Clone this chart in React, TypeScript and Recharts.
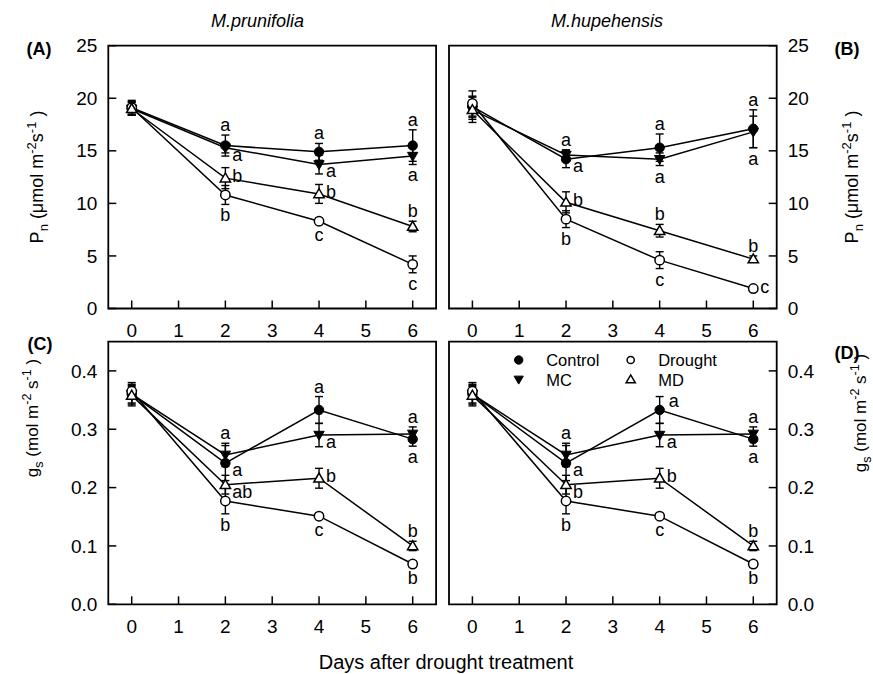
import React from 'react';
import { LineChart, Line, XAxis, YAxis, ErrorBar, LabelList, Legend, ReferenceArea } from 'recharts';

const FONT = '"Liberation Sans", Arial, Helvetica, sans-serif';

const days = [0, 2, 4, 6];
const dayTicks = [0, 1, 2, 3, 4, 5, 6];
const pnTicks = [0, 5, 10, 15, 20, 25];
const gsTicks = [0, 0.1, 0.2, 0.3, 0.4];

type SeriesKey = 'control' | 'mc' | 'drought' | 'md';
type Placement = '' | 'top' | 'bottom' | 'right' | 'rightLow' | 'rightUp';
type Shape = 'filledCircle' | 'filledDown' | 'openCircle' | 'openUp';

// (A) Pn, M. prunifolia
const pnPrunMean = { control: [19.1, 15.5, 14.9, 15.5], mc: [19.0, 15.3, 13.7, 14.5], drought: [19.1, 10.8, 8.3, 4.2], md: [19.0, 12.4, 10.9, 7.8] };
const pnPrunSe = { control: [0.7, 1.0, 0.8, 1.5], mc: [0.6, 0.5, 0.9, 0.8], drought: [0.6, 0.9, 0.3, 0.8], md: [0.6, 1.0, 0.9, 0.5] };
const pnPrunSig = { control: ['', 'a', 'a', 'a'], mc: ['', 'a', 'a', 'a'], drought: ['', 'b', 'c', 'c'], md: ['', 'b', 'b', 'b'] };

// (B) Pn, M. hupehensis
const pnHupeMean = { control: [19.2, 14.2, 15.3, 17.1], mc: [18.9, 14.6, 14.2, 16.8], drought: [19.5, 8.5, 4.6, 1.9], md: [18.9, 10.1, 7.4, 4.7] };
const pnHupeSe = { control: [1.0, 0.8, 1.3, 1.8], mc: [0.9, 0.5, 0.6, 1.5], drought: [1.2, 0.8, 0.8, 0.2], md: [1.2, 1.0, 0.6, 0.3] };
const pnHupeSig = { control: ['', 'a', 'a', 'a'], mc: ['', 'a', 'a', 'a'], drought: ['', 'b', 'c', 'c'], md: ['', 'b', 'b', 'b'] };

// (C) gs, M. prunifolia
const gsPrunMean = { control: [0.36, 0.242, 0.333, 0.283], mc: [0.36, 0.256, 0.29, 0.292], drought: [0.365, 0.177, 0.151, 0.069], md: [0.358, 0.205, 0.216, 0.1] };
const gsPrunSe = { control: [0.02, 0.03, 0.023, 0.012], mc: [0.015, 0.02, 0.02, 0.012], drought: [0.012, 0.022, 0.004, 0.005], md: [0.015, 0.016, 0.017, 0.008] };
const gsPrunSig = { control: ['', 'a', 'a', 'a'], mc: ['', 'a', 'a', 'a'], drought: ['', 'b', 'c', 'b'], md: ['', 'ab', 'b', 'b'] };

// (D) gs, M. hupehensis
const gsHupeMean = { control: [0.36, 0.242, 0.333, 0.283], mc: [0.36, 0.256, 0.29, 0.292], drought: [0.365, 0.177, 0.151, 0.069], md: [0.358, 0.205, 0.216, 0.1] };
const gsHupeSe = { control: [0.02, 0.03, 0.023, 0.012], mc: [0.015, 0.02, 0.02, 0.012], drought: [0.012, 0.022, 0.004, 0.005], md: [0.015, 0.016, 0.017, 0.008] };
const gsHupeSig = { control: ['', 'a', 'a', 'a'], mc: ['', 'a', 'a', 'a'], drought: ['', 'b', 'c', 'b'], md: ['', 'b', 'b', 'b'] };

const seriesDefs: { key: SeriesKey; name: string; shape: Shape }[] = [
  { key: 'control', name: 'Control', shape: 'filledCircle' },
  { key: 'mc', name: 'MC', shape: 'filledDown' },
  { key: 'drought', name: 'Drought', shape: 'openCircle' },
  { key: 'md', name: 'MD', shape: 'openUp' },
];

// where each significance letter sits relative to its point
const placeA: Record<SeriesKey, Placement[]> = {
  control: ['', 'top', 'top', 'top'],
  mc: ['', 'rightLow', 'rightLow', 'bottom'],
  drought: ['', 'bottom', 'bottom', 'bottom'],
  md: ['', 'right', 'right', 'top'],
};
const placeB: Record<SeriesKey, Placement[]> = {
  control: ['', 'rightLow', 'top', 'top'],
  mc: ['', 'top', 'bottom', 'bottom'],
  drought: ['', 'bottom', 'bottom', 'right'],
  md: ['', 'right', 'top', 'top'],
};
const placeC: Record<SeriesKey, Placement[]> = {
  control: ['', 'rightLow', 'top', 'bottom'],
  mc: ['', 'top', 'rightLow', 'top'],
  drought: ['', 'bottom', 'bottom', 'bottom'],
  md: ['', 'rightLow', 'right', 'top'],
};
const placeD: Record<SeriesKey, Placement[]> = {
  control: ['', 'rightLow', 'rightUp', 'bottom'],
  mc: ['', 'top', 'rightLow', 'top'],
  drought: ['', 'bottom', 'bottom', 'bottom'],
  md: ['', 'rightLow', 'right', 'top'],
};

type Row = Record<string, number | string>;

const buildRows = (
  mean: Record<SeriesKey, number[]>,
  se: Record<SeriesKey, number[]>,
  sig: Record<SeriesKey, string[]>
): Row[] =>
  days.map((day, i) => {
    const row: Row = { day };
    seriesDefs.forEach(({ key }) => {
      row[key] = mean[key][i];
      row[`${key}Se`] = se[key][i];
      row[`${key}Sig`] = sig[key][i];
    });
    return row;
  });

const X_AXIS_H = 25;
const Y_AXIS_W = 60;

const Marker = ({ shape, x, y, r }: { shape: Shape; x: number; y: number; r: number }) => {
  if (shape === 'filledCircle') return <circle cx={x} cy={y} r={r} fill="#000" stroke="#000" strokeWidth={1} />;
  if (shape === 'openCircle') return <circle cx={x} cy={y} r={r} fill="#fff" stroke="#000" strokeWidth={1.5} />;
  const hw = r * 1.1;
  if (shape === 'filledDown') {
    const pts = `${x - hw},${y - r * 0.8} ${x + hw},${y - r * 0.8} ${x},${y + r * 1.1}`;
    return <polygon points={pts} fill="#000" stroke="#000" strokeWidth={1} />;
  }
  const pts = `${x - hw},${y + r * 0.8} ${x + hw},${y + r * 0.8} ${x},${y - r * 1.1}`;
  return <polygon points={pts} fill="#fff" stroke="#000" strokeWidth={1.5} />;
};

const makeDot = (shape: Shape) => (props: any) => {
  const { cx, cy, index } = props;
  if (cx == null || cy == null) return <g key={`dot-${shape}-${index}`} />;
  return (
    <g key={`dot-${shape}-${index}`}>
      <Marker shape={shape} x={cx} y={cy} r={4.7} />
    </g>
  );
};

const makeLetter = (place: Placement[], rows: Row[], seKey: string, pxPerUnit: number) => (props: any) => {
  const x = props.viewBox?.x ?? props.x;
  const y = props.viewBox?.y ?? props.y;
  const i = props.index;
  const v = props.value;
  const p = place[i];
  if (!v || !p || x == null || y == null) return null;
  const errPx = Number(rows[i][seKey]) * pxPerUnit;
  let tx = x;
  let ty = y;
  let anchor: 'middle' | 'start' = 'middle';
  if (p === 'top') ty = y - errPx - 4;
  else if (p === 'bottom') ty = y + errPx + 17;
  else if (p === 'right') { tx = x + 7; ty = y + 4; anchor = 'start'; }
  else if (p === 'rightLow') { tx = x + 7; ty = y + 13; anchor = 'start'; }
  else if (p === 'rightUp') { tx = x + 9; ty = y - 3; anchor = 'start'; }
  return (
    <text key={`sig-${seKey}-${i}`} x={tx} y={ty} textAnchor={anchor} fontFamily={FONT} fontSize={18} fill="#000">
      {v}
    </text>
  );
};

const renderXTick = (props: any) => {
  const { x, y, payload } = props;
  return (
    <g>
      <line x1={x} x2={x} y1={y} y2={y - 8} stroke="#000" strokeWidth={1.5} />
      <text x={x} y={y + 22} dy="0.35em" textAnchor="middle" fontFamily={FONT} fontSize={19} fill="#000">
        {payload.value}
      </text>
    </g>
  );
};

const makeYTick = (side: 'left' | 'right', fmt: (v: number) => string) => (props: any) => {
  const { x, y, payload } = props;
  const dir = side === 'left' ? 1 : -1;
  return (
    <g>
      <line x1={x} x2={x + dir * 8} y1={y} y2={y} stroke="#000" strokeWidth={1.5} />
      <text
        x={x - dir * 11}
        y={y}
        dy="0.35em"
        textAnchor={side === 'left' ? 'end' : 'start'}
        fontFamily={FONT}
        fontSize={19}
        fill="#000"
      >
        {fmt(payload.value)}
      </text>
    </g>
  );
};

const LegendBox = () => {
  const cols = [8.7, 120.7];
  const rowsY = [10, 29.5];
  const items: { shape: Shape; name: string; c: number; r: number }[] = [
    { shape: 'filledCircle', name: 'Control', c: 0, r: 0 },
    { shape: 'openCircle', name: 'Drought', c: 1, r: 0 },
    { shape: 'filledDown', name: 'MC', c: 0, r: 1 },
    { shape: 'openUp', name: 'MD', c: 1, r: 1 },
  ];
  return (
    <svg width={240} height={42} style={{ overflow: 'visible' }}>
      {items.map((it) => (
        <g key={it.name}>
          <Marker shape={it.shape} x={cols[it.c]} y={rowsY[it.r]} r={it.shape === 'openCircle' ? 3.6 : 4.2} />
          <text x={cols[it.c] + 27.5} y={rowsY[it.r] + 6} fontFamily={FONT} fontSize={16.5} fill="#000">
            {it.name}
          </text>
        </g>
      ))}
    </svg>
  );
};

type PanelProps = {
  rows: Row[];
  place: Record<SeriesKey, Placement[]>;
  side: 'left' | 'right';
  yMax: number;
  yTicks: number[];
  fmt: (v: number) => string;
  width: number;
  height: number;
  margin: { top: number; right: number; bottom: number; left: number };
  legend?: boolean;
};

const Panel = ({ rows, place, side, yMax, yTicks, fmt, width, height, margin, legend }: PanelProps) => {
  const plotH = height - margin.top - margin.bottom - X_AXIS_H;
  const pxPerUnit = plotH / yMax;
  return (
    <LineChart width={width} height={height} data={rows} margin={margin}>
      <XAxis
        dataKey="day"
        type="number"
        domain={[-0.5, 6.5]}
        ticks={dayTicks}
        interval={0}
        height={X_AXIS_H}
        tickSize={0}
        tickMargin={0}
        tickLine={false}
        axisLine={false}
        tick={renderXTick}
      />
      <YAxis
        type="number"
        orientation={side}
        domain={[0, yMax]}
        ticks={yTicks}
        interval={0}
        width={Y_AXIS_W}
        tickSize={0}
        tickMargin={0}
        tickLine={false}
        axisLine={false}
        tick={makeYTick(side, fmt)}
      />
      <ReferenceArea
        x1={-0.5}
        x2={6.5}
        y1={0}
        y2={yMax}
        fill="none"
        fillOpacity={0}
        stroke="#000"
        strokeWidth={1.8}
        ifOverflow="visible"
      />
      {seriesDefs.map((s) => (
        <Line
          key={s.key}
          dataKey={s.key}
          name={s.name}
          type="linear"
          stroke="#000"
          strokeWidth={1.5}
          dot={makeDot(s.shape)}
          activeDot={false}
          isAnimationActive={false}
        >
          <ErrorBar dataKey={`${s.key}Se`} width={4} stroke="#000" strokeWidth={1.4} direction="y" />
          <LabelList dataKey={`${s.key}Sig`} content={makeLetter(place[s.key], rows, `${s.key}Se`, pxPerUnit)} />
        </Line>
      ))}
      {legend && (
        <Legend
          layout="vertical"
          align="center"
          verticalAlign="middle"
          wrapperStyle={{ position: 'absolute', left: 70, top: 12, width: 240, height: 42 }}
          content={() => <LegendBox />}
        />
      )}
    </LineChart>
  );
};

const rowsA = buildRows(pnPrunMean, pnPrunSe, pnPrunSig);
const rowsB = buildRows(pnHupeMean, pnHupeSe, pnHupeSig);
const rowsC = buildRows(gsPrunMean, gsPrunSe, gsPrunSig);
const rowsD = buildRows(gsHupeMean, gsHupeSe, gsHupeSig);

const fmtPn = (v: number) => String(v);
const fmtGs = (v: number) => v.toFixed(1);

const sub = 13;

const PnLabel = ({ x, y }: { x: number; y: number }) => (
  <text transform={`rotate(-90 ${x} ${y})`} x={x} y={y} textAnchor="middle" fontFamily={FONT} fontSize={18} fill="#000">
    P<tspan dy={5} fontSize={sub}>n</tspan>
    <tspan dy={-5}> (μmol m</tspan>
    <tspan dy={-7} fontSize={sub}>-2</tspan>
    <tspan dy={7}>s</tspan>
    <tspan dy={-7} fontSize={sub}>-1</tspan>
    <tspan dy={7}> )</tspan>
  </text>
);

const GsLabel = ({ x, y }: { x: number; y: number }) => (
  <text transform={`rotate(-90 ${x} ${y})`} x={x} y={y} textAnchor="middle" fontFamily={FONT} fontSize={17} fill="#000">
    g<tspan dy={5} fontSize={12.5}>s</tspan>
    <tspan dy={-5}> (mol m</tspan>
    <tspan dy={-7} fontSize={12.5}>-2</tspan>
    <tspan dy={7}> s</tspan>
    <tspan dy={-7} fontSize={12.5}>-1</tspan>
    <tspan dy={7}> )</tspan>
  </text>
);

export default function App() {
  return (
    <div style={{ position: 'absolute', left: 0, top: 0, width: 873, height: 674, background: '#fff' }}>
      <div style={{ position: 'absolute', left: 0, top: 0 }}>
        <Panel rows={rowsA} place={placeA} side="left" yMax={25} yTicks={pnTicks} fmt={fmtPn} width={450} height={346}
          margin={{ top: 45.7, right: 13.9, bottom: 12.5, left: 48.3 }} />
      </div>
      <div style={{ position: 'absolute', left: 440, top: 0 }}>
        <Panel rows={rowsB} place={placeB} side="right" yMax={25} yTicks={pnTicks} fmt={fmtPn} width={433} height={346}
          margin={{ top: 45.7, right: 36.3, bottom: 12.5, left: 9 }} />
      </div>
      <div style={{ position: 'absolute', left: 0, top: 338 }}>
        <Panel rows={rowsC} place={placeC} side="left" yMax={0.45} yTicks={gsTicks} fmt={fmtGs} width={450} height={336}
          margin={{ top: 3.7, right: 13.9, bottom: 44.7, left: 48.3 }} />
      </div>
      <div style={{ position: 'absolute', left: 440, top: 338 }}>
        <Panel rows={rowsD} place={placeD} side="right" yMax={0.45} yTicks={gsTicks} fmt={fmtGs} width={433} height={336}
          margin={{ top: 3.7, right: 36.3, bottom: 44.7, left: 9 }} legend />
      </div>
      <svg width={873} height={674} style={{ position: 'absolute', left: 0, top: 0, pointerEvents: 'none' }}>
        <text x={257.5} y={27} textAnchor="middle" fontFamily={FONT} fontSize={18} fontStyle="italic" fill="#000">M.prunifolia</text>
        <text x={607} y={27} textAnchor="middle" fontFamily={FONT} fontSize={18} fontStyle="italic" fill="#000">M.hupehensis</text>
        <text x={39} y={55} textAnchor="middle" fontFamily={FONT} fontSize={18} fontWeight="bold" fill="#000">(A)</text>
        <text x={847} y={55} textAnchor="middle" fontFamily={FONT} fontSize={18} fontWeight="bold" fill="#000">(B)</text>
        <text x={40} y={350} textAnchor="middle" fontFamily={FONT} fontSize={18} fontWeight="bold" fill="#000">(C)</text>
        <text x={847} y={359} textAnchor="middle" fontFamily={FONT} fontSize={18} fontWeight="bold" fill="#000">(D)</text>
        <PnLabel x={43} y={177} />
        <PnLabel x={858} y={177} />
        <GsLabel x={38} y={418} />
        <GsLabel x={866} y={413} />
        <text x={446} y={669} textAnchor="middle" fontFamily={FONT} fontSize={20} fill="#000">Days after drought treatment</text>
      </svg>
    </div>
  );
}
